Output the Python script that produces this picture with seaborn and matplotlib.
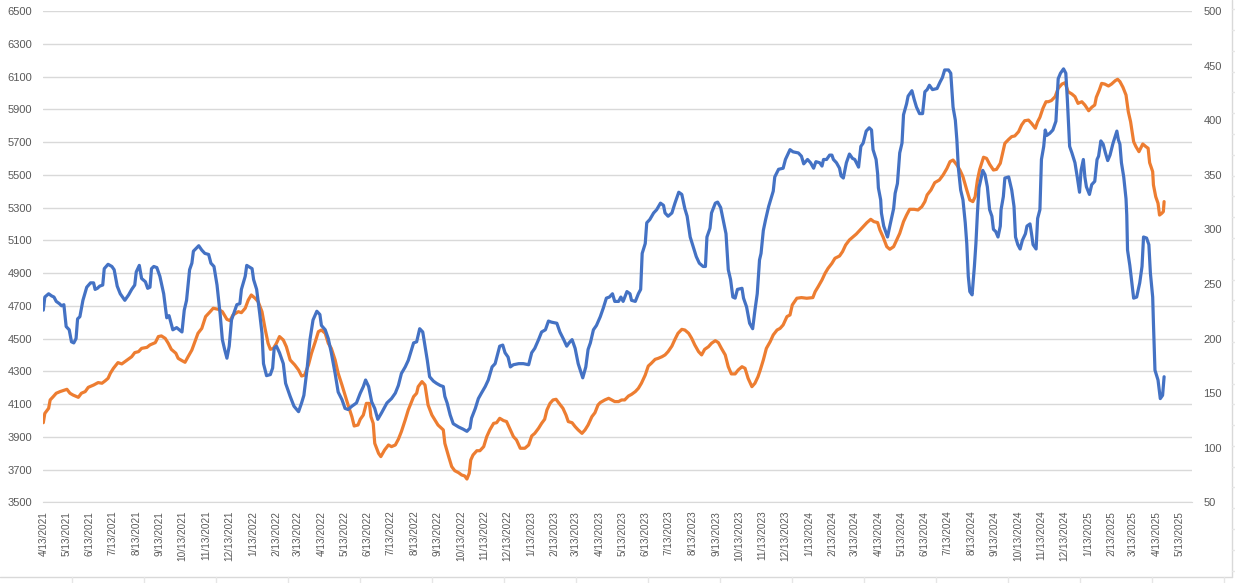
import matplotlib
matplotlib.use("Agg")
import numpy as np
import pandas as pd
import matplotlib.pyplot as plt
from matplotlib.lines import Line2D
import seaborn as sns

# ---- data (days counted from 4/13/2021) ----
start = pd.Timestamp("2021-04-13")

orange_day = [0, 2, 7, 9, 13, 17, 22, 26, 31, 35, 39, 46, 50, 55, 59, 66, 72, 77, 81, 85,
              88, 92, 98, 103, 109, 116, 120, 125, 129, 136, 140, 147, 151, 155, 160, 164, 168, 174, 177, 182,
              186, 190, 195, 199, 203, 208, 213, 219, 223, 230, 235, 241, 245, 249, 256, 260, 265, 269, 273, 278,
              282, 287, 291, 295, 298, 302, 306, 310, 315, 319, 324, 330, 335, 339, 343, 348, 352, 357, 361, 365,
              370, 374, 378, 383, 387, 392, 396, 400, 405, 408, 413, 416, 420, 424, 428, 430, 433, 435, 440, 443,
              448, 453, 457, 462, 466, 470, 475, 479, 486, 490, 492, 497, 501, 505, 510, 514, 518, 525, 527, 532,
              536, 540, 545, 549, 553, 556, 559, 561, 564, 569, 573, 578, 582, 586, 591, 595, 599, 604, 608, 613,
              617, 621, 626, 632, 637, 641, 645, 650, 654, 658, 661, 665, 669, 673, 677, 682, 686, 689, 694, 698,
              702, 707, 711, 715, 720, 724, 728, 731, 737, 742, 746, 750, 755, 759, 763, 768, 772, 777, 781, 785,
              790, 794, 798, 803, 807, 812, 816, 820, 825, 829, 833, 838, 842, 847, 851, 855, 860, 864, 868, 873,
              877, 882, 886, 890, 895, 899, 903, 908, 912, 917, 921, 925, 930, 934, 938, 941, 945, 949, 954, 958,
              963, 967, 971, 976, 980, 983, 989, 995, 1002, 1010, 1013, 1017, 1022, 1026, 1030, 1035, 1039, 1045, 1049, 1053,
              1058, 1063, 1067, 1072, 1076, 1081, 1086, 1090, 1095, 1098, 1102, 1107, 1111, 1116, 1120, 1124, 1129, 1133, 1137, 1143,
              1148, 1153, 1157, 1160, 1165, 1170, 1176, 1181, 1186, 1190, 1194, 1199, 1203, 1207, 1212, 1216, 1220, 1223, 1226, 1229,
              1234, 1238, 1242, 1247, 1251, 1256, 1258, 1262, 1267, 1271, 1275, 1280, 1284, 1288, 1293, 1297, 1302, 1305, 1308, 1312,
              1316, 1319, 1323, 1328, 1332, 1337, 1341, 1345, 1350, 1354, 1358, 1363, 1367, 1372, 1376, 1380, 1382, 1386, 1389, 1393,
              1398, 1402, 1407, 1410, 1413, 1417, 1421, 1424, 1427, 1431, 1434, 1438, 1443, 1447, 1450, 1452, 1456, 1457, 1460, 1463,
              1465, 1468, 1470, 1471]
orange_val = [3986, 4043, 4074, 4125, 4145, 4166, 4176, 4182, 4190, 4166, 4155, 4141, 4166, 4176, 4202, 4216, 4231, 4227, 4241, 4257,
              4288, 4318, 4353, 4345, 4365, 4389, 4414, 4420, 4440, 4446, 4461, 4475, 4512, 4516, 4501, 4471, 4434, 4410, 4379, 4365,
              4355, 4389, 4430, 4481, 4532, 4562, 4634, 4664, 4685, 4678, 4664, 4617, 4609, 4644, 4664, 4658, 4685, 4735, 4766, 4746,
              4725, 4664, 4562, 4471, 4434, 4440, 4471, 4512, 4491, 4450, 4369, 4339, 4308, 4271, 4277, 4339, 4410, 4481, 4542, 4552,
              4532, 4471, 4440, 4369, 4288, 4216, 4155, 4094, 4023, 3966, 3972, 4007, 4033, 4104, 4104, 4023, 3982, 3860, 3799, 3779,
              3820, 3850, 3840, 3850, 3885, 3932, 4003, 4064, 4145, 4166, 4206, 4237, 4216, 4094, 4033, 4003, 3972, 3942, 3860, 3779,
              3718, 3693, 3681, 3667, 3661, 3642, 3677, 3758, 3789, 3815, 3815, 3840, 3901, 3942, 3982, 3986, 4013, 3999, 3993, 3942,
              3901, 3881, 3830, 3830, 3850, 3905, 3921, 3952, 3982, 4007, 4064, 4104, 4125, 4129, 4104, 4074, 4033, 3993, 3986, 3962,
              3942, 3921, 3942, 3972, 4023, 4047, 4094, 4109, 4125, 4135, 4125, 4115, 4115, 4125, 4125, 4149, 4159, 4176, 4196, 4227,
              4277, 4332, 4349, 4373, 4379, 4389, 4400, 4420, 4454, 4495, 4532, 4556, 4552, 4532, 4501, 4461, 4420, 4400, 4434, 4450,
              4471, 4487, 4475, 4440, 4400, 4328, 4284, 4284, 4308, 4328, 4318, 4257, 4206, 4227, 4267, 4308, 4369, 4440, 4481, 4522,
              4552, 4562, 4583, 4634, 4644, 4705, 4746, 4750, 4746, 4750, 4786, 4817, 4858, 4898, 4929, 4959, 4990, 5004, 5031, 5071,
              5102, 5122, 5138, 5163, 5183, 5208, 5228, 5214, 5208, 5163, 5122, 5061, 5045, 5061, 5102, 5142, 5214, 5254, 5289, 5289,
              5285, 5305, 5336, 5377, 5407, 5452, 5468, 5499, 5539, 5580, 5590, 5560, 5529, 5488, 5407, 5346, 5336, 5366, 5468, 5533,
              5607, 5600, 5564, 5529, 5533, 5570, 5611, 5692, 5716, 5733, 5737, 5763, 5804, 5830, 5834, 5814, 5784, 5824, 5851, 5906,
              5946, 5946, 5953, 5977, 6028, 6054, 6062, 6007, 5993, 5977, 5936, 5946, 5926, 5891, 5912, 5926, 5973, 6018, 6058, 6054,
              6042, 6054, 6075, 6083, 6069, 6034, 5987, 5885, 5824, 5702, 5672, 5641, 5688, 5672, 5662, 5574, 5519, 5438, 5366, 5326,
              5254, 5265, 5275, 5336]

blue_day = [0, 2, 7, 11, 14, 17, 21, 24, 27, 30, 34, 37, 40, 43, 45, 48, 52, 57, 62, 66,
            68, 71, 74, 78, 80, 85, 90, 93, 97, 101, 107, 112, 116, 120, 122, 126, 129, 134, 137, 140,
            142, 145, 149, 153, 158, 162, 165, 170, 175, 182, 185, 188, 192, 195, 197, 204, 208, 212, 217, 220,
            224, 228, 232, 235, 238, 241, 244, 247, 254, 258, 260, 265, 267, 274, 276, 280, 284, 287, 289, 293,
            298, 301, 303, 306, 310, 315, 318, 324, 329, 335, 339, 342, 346, 350, 354, 359, 363, 365, 370, 374,
            378, 383, 387, 392, 396, 400, 405, 411, 416, 420, 423, 427, 431, 435, 439, 444, 451, 457, 462, 466,
            470, 475, 479, 486, 490, 494, 498, 501, 504, 507, 512, 516, 521, 525, 527, 530, 534, 538, 545, 551,
            556, 560, 562, 567, 571, 575, 580, 584, 589, 593, 596, 599, 603, 606, 610, 613, 617, 624, 630, 637,
            641, 645, 650, 654, 659, 663, 667, 674, 678, 683, 687, 690, 694, 698, 702, 708, 712, 715, 718, 722,
            726, 731, 735, 739, 743, 747, 750, 755, 758, 761, 766, 770, 772, 777, 781, 784, 786, 790, 792, 796,
            801, 805, 810, 814, 816, 820, 825, 829, 834, 838, 842, 845, 849, 853, 857, 861, 866, 869, 871, 875,
            877, 882, 885, 889, 893, 896, 899, 902, 905, 908, 911, 917, 919, 923, 927, 931, 934, 937, 940, 942,
            945, 948, 952, 955, 958, 960, 965, 971, 974, 978, 980, 984, 991, 995, 998, 1003, 1007, 1011, 1014, 1019,
            1022, 1024, 1028, 1032, 1035, 1037, 1041, 1045, 1047, 1050, 1054, 1058, 1062, 1065, 1070, 1073, 1076, 1080, 1084, 1087,
            1089, 1093, 1095, 1096, 1099, 1100, 1103, 1108, 1111, 1116, 1118, 1121, 1124, 1127, 1129, 1133, 1135, 1140, 1143, 1146,
            1150, 1154, 1157, 1160, 1163, 1167, 1173, 1177, 1180, 1183, 1188, 1191, 1194, 1197, 1199, 1201, 1204, 1207, 1210, 1212,
            1214, 1216, 1219, 1222, 1224, 1226, 1228, 1233, 1236, 1239, 1242, 1245, 1247, 1250, 1253, 1256, 1257, 1260, 1262, 1267,
            1271, 1274, 1276, 1279, 1282, 1285, 1289, 1291, 1295, 1297, 1299, 1303, 1305, 1308, 1310, 1313, 1315, 1317, 1321, 1325,
            1329, 1332, 1335, 1339, 1342, 1344, 1347, 1350, 1354, 1357, 1360, 1362, 1365, 1367, 1369, 1373, 1376, 1380, 1383, 1385,
            1388, 1391, 1394, 1397, 1400, 1404, 1409, 1411, 1413, 1415, 1418, 1421, 1422, 1423, 1426, 1431, 1435, 1439, 1442, 1444,
            1448, 1451, 1453, 1456, 1457, 1459, 1463, 1466, 1469, 1471]
blue_val = [226, 238, 241, 239, 238, 234, 232, 230, 231, 211, 208, 197, 196, 200, 218, 220, 235, 247, 251, 251,
            245, 246, 248, 249, 264, 268, 266, 263, 248, 241, 235, 240, 245, 249, 261, 267, 255, 252, 246, 247,
            264, 266, 265, 257, 241, 219, 221, 208, 210, 206, 226, 235, 263, 269, 280, 285, 281, 278, 277, 269,
            266, 249, 223, 199, 190, 182, 193, 217, 231, 232, 245, 257, 267, 264, 254, 245, 223, 205, 177, 166,
            167, 173, 191, 193, 187, 177, 159, 147, 138, 133, 141, 148, 171, 199, 217, 225, 222, 212, 208, 200,
            187, 168, 151, 144, 136, 135, 138, 141, 150, 156, 162, 156, 142, 136, 126, 132, 141, 145, 150, 157,
            168, 174, 180, 196, 197, 209, 206, 193, 180, 165, 161, 159, 157, 156, 147, 141, 130, 122, 119, 117,
            115, 118, 127, 136, 145, 150, 156, 162, 174, 177, 185, 193, 194, 187, 183, 174, 176, 177, 177, 176,
            187, 191, 199, 206, 208, 216, 215, 214, 206, 199, 193, 196, 199, 191, 177, 164, 174, 190, 196, 208,
            212, 220, 228, 237, 238, 241, 234, 234, 238, 234, 243, 241, 235, 234, 241, 245, 278, 287, 306, 309,
            315, 318, 324, 322, 315, 312, 315, 324, 334, 332, 319, 312, 293, 284, 275, 269, 266, 266, 293, 301,
            315, 324, 325, 320, 306, 296, 263, 254, 238, 237, 245, 246, 237, 229, 214, 209, 226, 241, 272, 278,
            299, 309, 321, 328, 335, 348, 355, 356, 364, 370, 373, 371, 370, 367, 360, 364, 361, 356, 362, 361,
            358, 364, 364, 368, 368, 364, 361, 356, 349, 347, 361, 369, 365, 364, 357, 376, 379, 390, 393, 391,
            373, 364, 351, 338, 327, 315, 303, 293, 303, 319, 333, 342, 370, 379, 405, 415, 422, 427, 419, 412,
            406, 406, 426, 428, 432, 428, 429, 435, 439, 446, 446, 443, 412, 400, 382, 356, 336, 327, 306, 287,
            257, 243, 240, 266, 287, 315, 338, 354, 350, 339, 318, 312, 300, 298, 293, 303, 318, 330, 347, 348,
            336, 321, 293, 286, 282, 290, 296, 303, 305, 296, 286, 282, 310, 318, 364, 376, 391, 386, 388, 391,
            399, 438, 443, 447, 443, 419, 376, 370, 361, 348, 334, 354, 364, 348, 339, 332, 341, 344, 364, 367,
            381, 378, 370, 363, 368, 379, 390, 382, 378, 361, 348, 328, 313, 281, 267, 237, 238, 251, 266, 293,
            292, 286, 260, 238, 214, 171, 162, 145, 148, 165]

left_ticks = list(range(3500, 6501, 200))
right_ticks = list(range(50, 501, 50))
month_ticks = pd.date_range("2021-04-13", "2025-05-13", freq=pd.DateOffset(months=1))
x_end = start + pd.Timedelta(days=1508)

orange = pd.DataFrame({"date": start + pd.to_timedelta(orange_day, unit="D"), "value": orange_val})
blue = pd.DataFrame({"date": start + pd.to_timedelta(blue_day, unit="D"), "value": blue_val})

# ---- style ----
sns.set_style("white")
plt.rcParams["font.family"] = ["Liberation Sans", "DejaVu Sans"]
grid_col = "#d9d9d9"
text_col = "#595959"

W, H = 1235, 583
fig = plt.figure(figsize=(W / 100, H / 100), dpi=100)
ax = fig.add_axes([43.3 / W, (H - 502.3) / H, (1192.3 - 43.3) / W, (502.3 - 11) / H])
ax2 = ax.twinx()

sns.lineplot(data=orange, x="date", y="value", ax=ax, color="#ED7D31", linewidth=2.3,
             estimator=None, sort=False, legend=False)
sns.lineplot(data=blue, x="date", y="value", ax=ax2, color="#4472C4", linewidth=2.3,
             estimator=None, sort=False, legend=False)

ax.set_xlim(start, x_end)
ax.set_ylim(3500, 6500)
ax2.set_ylim(50, 500)
ax.set_yticks(left_ticks)
ax2.set_yticks(right_ticks)
ax.set_xticks(month_ticks)
ax.set_xticklabels([f"{d.month}/{d.day}/{d.year}" for d in month_ticks], rotation=90)

ax.yaxis.grid(True, color=grid_col, linewidth=1)
ax.xaxis.grid(False)
ax2.grid(False)
for a in (ax, ax2):
    for s in ("top", "left", "right"):
        a.spines[s].set_visible(False)
    a.set_xlabel("")
    a.set_ylabel("")
ax.spines["bottom"].set_color(grid_col)
ax2.spines["bottom"].set_visible(False)

ax.tick_params(axis="y", length=0, pad=8, labelsize=8, labelcolor=text_col)
ax2.tick_params(axis="y", length=0, pad=8, labelsize=8, labelcolor=text_col)
ax.tick_params(axis="x", length=4, width=1, color=grid_col, pad=2, labelsize=7.2, labelcolor=text_col)

# chart border and the sheet cells behind it
px = lambda x: x / W
py = lambda y: (H - y) / H
fig.add_artist(Line2D([px(1231.5), px(1231.5)], [py(576.5), 1], color=grid_col, lw=1))
fig.add_artist(Line2D([0, px(1231.5)], [py(576.5), py(576.5)], color=grid_col, lw=1))
for cx in np.arange(71.6, 1230, 72):
    fig.add_artist(Line2D([px(cx), px(cx)], [0, py(576.5)], color="#e6e6e6", lw=1))
for ry in np.arange(9.1, 576, 20.8):
    fig.add_artist(Line2D([px(1231.5), 1], [py(ry), py(ry)], color="#e6e6e6", lw=1))

fig.savefig("out.png", dpi=100)
